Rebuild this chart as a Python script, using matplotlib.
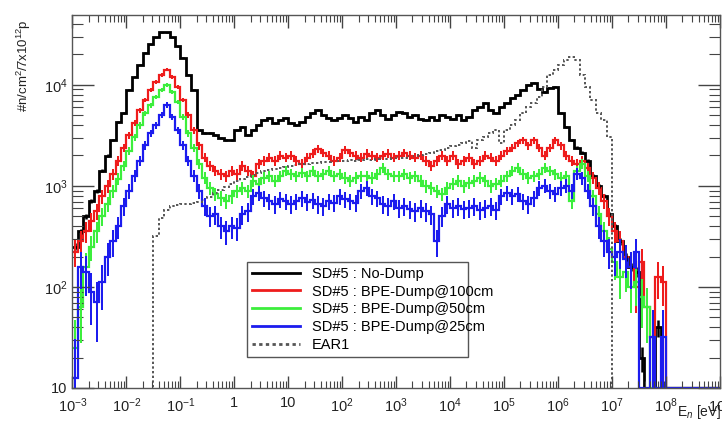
import numpy as np
import matplotlib
matplotlib.use("Agg")
import matplotlib.pyplot as plt
from matplotlib.ticker import FixedLocator, NullFormatter

plt.rcParams["font.family"] = ["Liberation Sans", "DejaVu Sans"]
plt.rcParams["mathtext.fontset"] = "custom"
plt.rcParams["mathtext.rm"] = "Liberation Sans"
plt.rcParams["mathtext.it"] = "Liberation Sans:italic"

# bin edges: 10 bins per decade, 1e-3 .. 1e9 eV
decades = np.arange(-3, 10)
edges = 10.0 ** np.linspace(-3, 9, 121)

# log10 of flux per bin (1.0 == empty / at axis floor)
lg_nodump = [
    2.40, 2.55, 2.70, 2.85, 2.95, 3.15, 3.30, 3.45, 3.63, 3.72,
    3.95, 4.08, 4.20, 4.32, 4.40, 4.47, 4.52, 4.52, 4.47, 4.38,
    4.27, 4.10, 3.95, 3.55, 3.52, 3.52, 3.50, 3.47, 3.45, 3.45,
    3.55, 3.58, 3.50, 3.55, 3.60, 3.65, 3.67, 3.62, 3.65, 3.67,
    3.62, 3.60, 3.63, 3.68, 3.72, 3.75, 3.70, 3.67, 3.65, 3.67,
    3.70, 3.67, 3.63, 3.68, 3.65, 3.72, 3.75, 3.70, 3.66, 3.70,
    3.73, 3.72, 3.68, 3.70, 3.66, 3.65, 3.68, 3.65, 3.70, 3.68,
    3.66, 3.70, 3.65, 3.68, 3.75, 3.78, 3.82, 3.75, 3.72, 3.78,
    3.82, 3.87, 3.90, 3.95, 4.00, 4.02, 3.96, 3.93, 3.97, 3.98,
    3.72, 3.58, 3.45, 3.38, 3.33, 3.25, 3.10, 3.00, 2.90, 2.72,
    2.60, 2.45, 2.30, 2.20, 2.15, 1.30, 1.00, 1.00, 1.60, 1.00,
    1.00, 1.00, 1.00, 1.00, 1.00, 1.00, 1.00, 1.00, 1.00, 1.00,
]
lg_bpe100 = [
    2.35, 2.45, 2.55, 2.65, 2.75, 2.90, 3.00, 3.12, 3.25, 3.38,
    3.50, 3.62, 3.75, 3.85, 3.95, 4.03, 4.10, 4.15, 4.08, 3.98,
    3.85, 3.70, 3.55, 3.40, 3.28, 3.20, 3.15, 3.12, 3.10, 3.15,
    3.12, 3.20, 3.15, 3.10, 3.22, 3.25, 3.28, 3.25, 3.30, 3.28,
    3.30, 3.25, 3.22, 3.28, 3.32, 3.37, 3.33, 3.30, 3.25, 3.28,
    3.36, 3.33, 3.30, 3.28, 3.32, 3.30, 3.28, 3.30, 3.32, 3.28,
    3.30, 3.33, 3.30, 3.28, 3.30, 3.25, 3.20, 3.25, 3.30, 3.25,
    3.30, 3.22, 3.25, 3.28, 3.22, 3.25, 3.30, 3.28, 3.25, 3.30,
    3.35, 3.38, 3.42, 3.45, 3.40, 3.45, 3.38, 3.30, 3.38, 3.45,
    3.40, 3.30, 3.25, 3.22, 3.25, 3.18, 3.08, 2.98, 2.85, 2.70,
    2.55, 2.45, 2.30, 2.20, 2.00, 2.25, 1.80, 1.50, 2.10, 2.05,
    1.00, 1.00, 1.00, 1.00, 1.00, 1.00, 1.00, 1.00, 1.00, 1.00,
]
lg_bpe50 = [
    1.40, 1.80, 2.20, 2.40, 2.55, 2.70, 2.82, 2.95, 3.07, 3.20,
    3.35, 3.48, 3.60, 3.72, 3.80, 3.88, 3.95, 4.00, 3.93, 3.83,
    3.68, 3.52, 3.38, 3.22, 3.08, 2.98, 2.92, 2.88, 2.85, 2.90,
    2.95, 2.98, 2.95, 3.05, 3.02, 3.08, 3.10, 3.05, 3.10, 3.15,
    3.12, 3.10, 3.13, 3.10, 3.15, 3.10, 3.12, 3.15, 3.10, 3.12,
    3.08, 3.05, 3.08, 3.10, 3.10, 3.08, 3.12, 3.18, 3.12, 3.10,
    3.10, 3.12, 3.08, 3.10, 3.05, 3.00, 2.98, 2.95, 2.92, 2.98,
    3.02, 3.05, 3.00, 3.03, 3.05, 3.08, 3.05, 3.00, 3.02, 3.05,
    3.10, 3.15, 3.18, 3.12, 3.08, 3.10, 3.12, 3.18, 3.15, 3.12,
    3.08, 3.10, 2.85, 3.15, 3.22, 3.10, 2.90, 2.72, 2.55, 2.38,
    2.25, 2.10, 2.15, 2.00, 2.05, 1.90, 1.80, 1.00, 1.00, 1.00,
    1.00, 1.00, 1.00, 1.00, 1.00, 1.00, 1.00, 1.00, 1.00, 1.00,
]
lg_bpe25 = [
    1.10, 2.20, 2.15, 1.95, 1.85, 2.05, 2.30, 2.45, 2.60, 2.80,
    2.95, 3.10, 3.25, 3.40, 3.52, 3.60, 3.70, 3.80, 3.68, 3.55,
    3.40, 3.25, 3.10, 2.95, 2.80, 2.70, 2.72, 2.60, 2.55, 2.60,
    2.58, 2.72, 2.75, 2.90, 2.93, 2.88, 2.85, 2.82, 2.87, 2.85,
    2.82, 2.85, 2.88, 2.84, 2.86, 2.82, 2.80, 2.85, 2.83, 2.90,
    2.87, 2.85, 2.83, 2.95, 2.98, 2.90, 2.88, 2.82, 2.80, 2.85,
    2.78, 2.80, 2.77, 2.75, 2.78, 2.75, 2.72, 2.45, 2.70, 2.82,
    2.78, 2.80, 2.77, 2.78, 2.80, 2.76, 2.78, 2.80, 2.76, 2.90,
    2.93, 2.90, 2.92, 2.85, 2.82, 2.88, 2.98, 3.00, 2.95, 2.92,
    2.98, 3.00, 2.95, 3.12, 3.08, 2.95, 2.80, 2.60, 2.45, 2.35,
    2.30, 2.35, 2.28, 2.20, 2.35, 1.00, 1.00, 1.50, 1.00, 1.50,
    1.00, 1.00, 1.00, 1.00, 1.00, 1.00, 1.00, 1.00, 1.00, 1.00,
]
lg_ear1 = [
    0.00, 0.00, 0.00, 0.00, 0.00, 0.00, 0.00, 0.00, 0.00, 0.00,
    0.00, 0.00, 0.00, 0.00, 0.00, 2.50, 2.68, 2.76, 2.80, 2.81,
    2.82, 2.82, 2.83, 2.84, 2.86, 2.89, 2.93, 2.96, 2.99, 3.02,
    3.05, 3.07, 3.09, 3.11, 3.13, 3.15, 3.16, 3.17, 3.18, 3.19,
    3.20, 3.21, 3.22, 3.22, 3.23, 3.23, 3.24, 3.24, 3.25, 3.25,
    3.25, 3.26, 3.25, 3.26, 3.27, 3.26, 3.27, 3.28, 3.27, 3.28,
    3.29, 3.28, 3.30, 3.30, 3.31, 3.32, 3.33, 3.35, 3.36, 3.38,
    3.39, 3.40, 3.42, 3.44, 3.38, 3.45, 3.48, 3.52, 3.55, 3.42,
    3.55, 3.60, 3.65, 3.72, 3.78, 3.82, 3.88, 3.98, 4.10, 4.15,
    4.20, 4.25, 4.28, 4.25, 4.10, 3.98, 3.85, 3.72, 3.65, 3.48,
    0.00, 0.00, 0.00, 0.00, 0.00, 0.00, 0.00, 0.00, 0.00, 0.00,
    0.00, 0.00, 0.00, 0.00, 0.00, 0.00, 0.00, 0.00, 0.00, 0.00,
]

labels = ["SD#5 : No-Dump", "SD#5 : BPE-Dump@100cm",
          "SD#5 : BPE-Dump@50cm", "SD#5 : BPE-Dump@25cm"]
colors = ["#000000", "#ee1c1c", "#3cee3c", "#1c1cee"]
widths = [2.0, 1.6, 1.6, 1.6]
# effective count weight for the statistical error bars
err_w = [1.5, 20.0, 20.0, 25.0]

fig = plt.figure(figsize=(7.22, 4.33), dpi=100)
ax = fig.add_axes([0.1004, 0.104, 0.8968, 0.861])

centers = np.sqrt(edges[:-1] * edges[1:])
for lg, lab, c, lw, w in zip([lg_nodump, lg_bpe100, lg_bpe50, lg_bpe25],
                             labels, colors, widths, err_w):
    y = 10.0 ** np.array(lg)
    ax.stairs(y, edges, color=c, lw=lw, label=lab, baseline=None)
    m = y > 10.5
    err = np.sqrt(y[m] * w)
    lo = np.minimum(err, y[m] - 9.0)
    ax.errorbar(centers[m], y[m], yerr=[lo, err], fmt="none", ecolor=c,
                elinewidth=lw * 0.9, capsize=0)

ear = 10.0 ** np.array(lg_ear1)
ax.stairs(ear, edges, color="#555555", lw=1.4, ls=(0, (1.2, 1.2)),
          label="EAR1", baseline=None)

ax.set_xscale("log")
ax.set_yscale("log")
ax.set_xlim(1e-3, 1e9)
ax.set_ylim(10, 10 ** 4.69)

xlabs = []
for d in decades:
    if d == 0:
        xlabs.append("1")
    elif d == 1:
        xlabs.append("10")
    else:
        xlabs.append(r"$10^{%d}$" % d)
ax.xaxis.set_major_locator(FixedLocator(10.0 ** decades))
ax.set_xticklabels(xlabs)
xminor = [k * 10.0 ** d for d in decades[:-1] for k in range(2, 10)]
ax.xaxis.set_minor_locator(FixedLocator(xminor))
ax.xaxis.set_minor_formatter(NullFormatter())

ydec = [1, 2, 3, 4]
ax.yaxis.set_major_locator(FixedLocator([10.0 ** d for d in ydec]))
ax.set_yticklabels(["10", "$10^{2}$", "$10^{3}$", "$10^{4}$"])
yminor = [k * 10.0 ** d for d in ydec for k in range(2, 10)]
ax.yaxis.set_minor_locator(FixedLocator(yminor))
ax.yaxis.set_minor_formatter(NullFormatter())

ax.tick_params(axis="both", which="both", direction="in", top=True,
               right=True, colors="#444444", labelcolor="#222222",
               labelsize=10.5)
ax.tick_params(axis="y", which="major", length=16, width=1)
ax.tick_params(axis="y", which="minor", length=8, width=0.8)
ax.tick_params(axis="x", which="major", length=9, width=1, pad=6)
ax.tick_params(axis="x", which="minor", length=5, width=0.8)
for s in ax.spines.values():
    s.set_color("#555555")
    s.set_linewidth(1.0)

fig.text(0.021, 0.955, "#n/cm$^{2}$/7x10$^{12}$p", rotation=90,
         ha="left", va="top", fontsize=9.5, color="#222222")
fig.text(0.9995, 0.028, "E$_{n}$ [eV]", ha="right", va="bottom",
         fontsize=10, color="#222222")

leg = ax.legend(loc="lower left", bbox_to_anchor=(0.2695, 0.083, 0.341, 0.255),
                mode="expand", borderaxespad=0, fontsize=10.5, frameon=True,
                fancybox=False, edgecolor="#555555", framealpha=1,
                handlelength=3.3, handletextpad=0.8, labelspacing=0.26,
                borderpad=0.35)
leg.get_frame().set_linewidth(1.0)
for h in leg.get_lines():
    h.set_linewidth(2.0)

fig.savefig("out.png", dpi=100)
